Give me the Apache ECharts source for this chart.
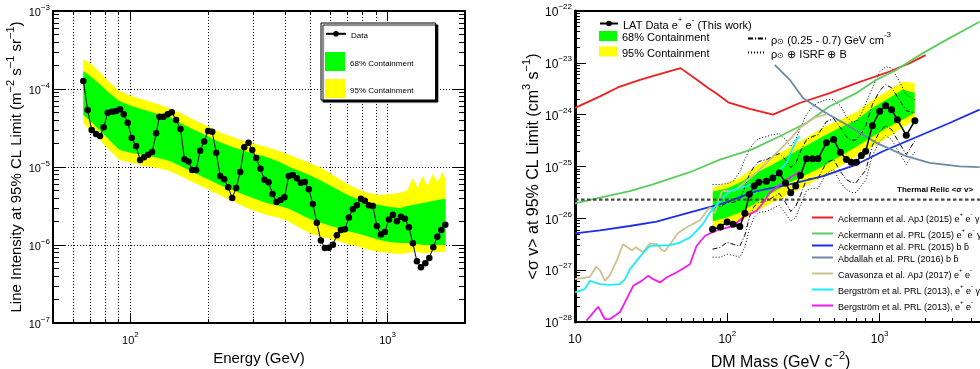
<!DOCTYPE html>
<html>
<head>
<meta charset="utf-8">
<script src="https://cdn.jsdelivr.net/npm/echarts@6.0.0/dist/echarts.min.js"></script>
<style>html,body{margin:0;padding:0;background:#fff}#main{width:980px;height:369px}</style>
</head>
<body>
<div id="main"></div>
<script>
var FONT = '"Liberation Sans", Arial, Helvetica, sans-serif';

// ---- left panel: line intensity limit vs energy ----
var leftE = [65.6,68.2,70.7,73.5,76.2,78.7,81.6,84.9,88.0,91.2,94.2,97.6,101.2,105.2,109.1,113.0,117.2,121.5,125.9,129.7,
  134.4,139.7,144.8,150.6,156.5,162.3,168.2,173.9,180.1,186.7,193.6,200.6,208.0,215.6,223.4,231.6,240.0,248.8,257.8,267.3,
  277.0,287.9,297.6,308.4,320.4,332.1,344.4,356.9,370.0,383.5,397.3,413.0,428.1,443.7,459.9,476.7,494.1,512.1,530.8,550.3,
  570.2,591.0,612.8,635.0,658.2,682.3,707.1,732.8,759.5,787.2,816.0,845.7,876.6,908.6,941.7,976.1,1012,1049,1087,1127,
  1168,1210,1254,1300,1348,1402,1453,1506,1561,1618,1677];
var leftI = [1.27e-4,5.38e-5,2.98e-5,2.65e-5,2.50e-5,3.23e-5,4.97e-5,5.12e-5,5.23e-5,5.50e-5,
  4.74e-5,3.70e-5,2.36e-5,1.86e-5,1.23e-5,1.33e-5,1.44e-5,1.56e-5,2.70e-5,4.42e-5,
  4.42e-5,4.74e-5,5.03e-5,4.01e-5,3.07e-5,1.26e-5,1.18e-5,9.16e-6,9.16e-6,1.62e-5,
  2.13e-5,2.90e-5,2.84e-5,1.52e-5,7.67e-6,6.95e-6,5.49e-6,4.01e-6,5.38e-6,8.63e-6,
  1.79e-5,2.05e-5,1.65e-5,1.30e-5,9.50e-6,6.86e-6,6.38e-6,4.51e-6,3.56e-6,3.77e-6,
  4.09e-6,7.67e-6,7.89e-6,7.16e-6,6.29e-6,6.43e-6,5.18e-6,3.36e-6,1.93e-6,1.14e-6,
  9.16e-7,9.23e-7,1.01e-6,1.33e-6,1.56e-6,1.59e-6,2.26e-6,2.87e-6,3.23e-6,3.93e-6,
  3.70e-6,3.23e-6,3.16e-6,1.75e-6,1.36e-6,1.47e-6,2.13e-6,2.44e-6,2.01e-6,2.31e-6,
  2.17e-6,1.69e-6,1.05e-6,6.18e-7,5.18e-7,5.82e-7,6.81e-7,9.35e-7,1.28e-6,1.56e-6,1.82e-6];

var bandE = [65.6,70.5,75.8,82.8,90.6,100.9,113.4,127.4,141.9,159.4,177.4,199.4,222,249.4,277.7,306.4,338.2,379.9,415.6,454.6,
  497.2,553.6,622,699,778.3,851.1,930.9,1018,1114,1196,1252,1309,1369,1431,1497,1565,1637,1682];
var bandYelHi = [2.42e-4,2.09e-4,1.65e-4,1.23e-4,9.43e-5,8.14e-5,7.23e-5,6.42e-5,5.71e-5,4.78e-5,4.01e-5,3.35e-5,2.81e-5,2.42e-5,
  2.15e-5,1.97e-5,1.81e-5,1.60e-5,1.43e-5,1.27e-5,1.13e-5,9.71e-6,7.67e-6,6.06e-6,5.07e-6,4.64e-6,4.38e-6,4.51e-6,4.64e-6,
  5.07e-6,7.23e-6,5.38e-6,7.67e-6,5.71e-6,8.14e-6,6.42e-6,8.63e-6,6.81e-6];
var bandGrnHi = [1.70e-4,1.43e-4,1.16e-4,8.89e-5,7.02e-5,6.06e-5,5.38e-5,4.78e-5,4.38e-5,3.56e-5,2.98e-5,2.50e-5,2.09e-5,1.81e-5,
  1.60e-5,1.47e-5,1.34e-5,1.16e-5,1.0e-5,8.89e-6,7.90e-6,6.62e-6,5.38e-6,4.38e-6,3.78e-6,3.46e-6,3.26e-6,3.07e-6,2.98e-6,
  3.16e-6,3.26e-6,3.35e-6,3.46e-6,3.56e-6,3.67e-6,3.78e-6,3.89e-6,3.89e-6];
var bandGrnLo = [4.64e-5,3.78e-5,2.98e-5,2.22e-5,1.65e-5,1.51e-5,1.43e-5,1.31e-5,1.19e-5,1.0e-5,8.38e-6,7.02e-6,5.88e-6,5.07e-6,
  4.38e-6,3.89e-6,3.46e-6,3.16e-6,2.89e-6,2.50e-6,2.15e-6,1.91e-6,1.70e-6,1.51e-6,1.38e-6,1.27e-6,1.16e-6,1.09e-6,1.06e-6,
  1.06e-6,1.03e-6,1.03e-6,1.0e-6,1.0e-6,1.0e-6,1.0e-6,1.0e-6,1.0e-6];
var bandYelLo = [3.67e-5,2.81e-5,2.22e-5,1.65e-5,1.23e-5,1.13e-5,1.03e-5,9.71e-6,8.89e-6,7.45e-6,6.24e-6,5.22e-6,4.38e-6,3.67e-6,
  3.07e-6,2.73e-6,2.42e-6,2.22e-6,1.97e-6,1.65e-6,1.43e-6,1.27e-6,1.16e-6,1.03e-6,9.43e-7,8.63e-7,8.14e-7,7.90e-7,7.67e-7,
  7.90e-7,8.14e-7,8.14e-7,7.90e-7,7.90e-7,8.14e-7,8.14e-7,8.14e-7,8.14e-7];

// ---- right panel: <sigma v> limit (cm^3 s^-1) vs DM mass ----
var latM = [80.0,90.2,99.7,109.2,120.8,130.3,139.4,149.9,160.9,180.4,198.8,219.2,240.9,260.8,281.2,301.8,330.6,361.9,393.7,446.9,
  499.0,552.1,604.8,652.0,703.0,758.0,809.6,895.3,1000,1095,1198,1306,1496,1703];
var latSv = [6.14e-27,6.81e-27,8.49e-27,7.67e-27,6.92e-27,1.25e-26,2.90e-26,4.22e-26,4.99e-26,5.22e-26,6.01e-26,7.50e-26,4.82e-26,
  3.12e-26,4.22e-26,6.71e-26,1.41e-25,1.41e-25,1.41e-25,2.86e-25,3.30e-25,1.88e-25,1.36e-25,1.21e-25,1.21e-25,1.63e-25,1.97e-25,
  6.14e-25,1.16e-24,1.49e-24,1.25e-24,8.02e-25,4.00e-25,7.67e-25];
var rhoUp = [1.56e-26,1.70e-26,2.03e-26,2.03e-26,2.32e-26,3.95e-26,7.02e-26,1.0e-25,1.25e-25,1.36e-25,1.56e-25,1.78e-25,1.36e-25,
  9.57e-26,1.14e-25,1.94e-25,3.30e-25,3.78e-25,4.12e-25,7.33e-25,8.38e-25,5.62e-25,3.78e-25,3.16e-25,3.30e-25,4.31e-25,6.14e-25,
  1.56e-24,2.90e-24,3.78e-24,3.30e-24,2.22e-24,1.19e-24,1.09e-24];
var rhoLo = [2.54e-27,2.77e-27,3.45e-27,3.16e-27,2.90e-27,4.71e-27,1.04e-26,1.70e-26,2.03e-26,2.12e-26,2.54e-26,3.03e-26,2.03e-26,
  1.36e-26,1.70e-26,2.77e-26,5.62e-26,5.88e-26,5.88e-26,1.19e-25,1.36e-25,8.02e-26,5.62e-26,4.92e-26,4.92e-26,6.71e-26,8.38e-26,
  2.54e-25,4.71e-25,6.14e-25,5.15e-25,3.30e-25,1.70e-25,3.16e-25];
var isrfUp = [4.51e-26,4.51e-26,4.71e-26,5.15e-26,8.02e-26,1.36e-25,2.12e-25,2.90e-25,3.45e-25,3.78e-25,4.12e-25,4.31e-25,3.30e-25,
  2.43e-25,3.30e-25,5.62e-25,1.0e-24,1.43e-24,1.70e-24,1.94e-24,1.94e-24,1.49e-24,9.16e-25,7.33e-25,7.33e-25,1.04e-24,1.63e-24,
  3.30e-24,6.71e-24,8.38e-24,8.02e-24,5.15e-24,2.43e-24,1.94e-24];
var isrfLo = [1.78e-27,1.78e-27,2.03e-27,1.94e-27,1.78e-27,2.77e-27,6.14e-27,1.04e-26,1.30e-26,1.36e-26,1.56e-26,1.78e-26,1.25e-26,
  8.75e-27,1.04e-26,1.78e-26,3.45e-26,3.78e-26,3.78e-26,7.33e-26,8.75e-26,4.92e-26,3.61e-26,3.16e-26,3.16e-26,4.31e-26,5.38e-26,
  1.63e-25,3.03e-25,3.95e-25,3.30e-25,2.12e-25,1.09e-25,1.94e-25];

var rBandM = [80.3,99.3,120.8,156,198.6,256.8,331.8,422.4,546.7,706.7,899.5,1163,1416,1698];
var rYelHi = [3.95e-26,4.71e-26,6.14e-26,1.04e-25,1.56e-25,2.32e-25,3.61e-25,5.62e-25,8.02e-25,1.14e-24,1.94e-24,3.03e-24,4.31e-24,4.12e-24];
var rGrnHi = [3.30e-26,3.78e-26,4.92e-26,7.67e-26,1.09e-25,1.70e-25,2.54e-25,3.78e-25,5.62e-25,8.02e-25,1.36e-24,2.12e-24,3.03e-24,2.65e-24];
var rGrnLo = [8.75e-27,1.04e-26,1.30e-26,2.03e-26,3.16e-26,4.92e-26,7.02e-26,1.0e-25,1.56e-25,2.43e-25,3.78e-25,5.88e-25,8.02e-25,1.09e-24];
var rYelLo = [6.14e-27,7.67e-27,8.75e-27,1.36e-26,2.03e-26,2.90e-26,4.31e-26,6.43e-26,1.0e-25,1.56e-25,2.43e-25,3.78e-25,5.62e-25,8.02e-25];

var ackApjM = [10,14.6,19.1,26.7,34.5,49.3,63.1,74.8,85.3,101.2,140.5,199.6,298.6,469.6,703,1164,1574,2005];
var ackApjSv = [1.35e-24,2.25e-24,3.35e-24,4.71e-24,5.88e-24,7.91e-24,4.71e-24,3.26e-24,2.53e-24,1.73e-24,1.29e-24,1.0e-24,1.68e-24,
  2.61e-24,4.07e-24,6.81e-24,9.86e-24,1.41e-23];
var ackPrlM = [10,14.6,22.9,32.4,56.8,89.3,144.1,221,330,470,703,951,1288,1924,2737,4529];
var ackPrlSv = [1.94e-26,2.50e-26,3.35e-26,4.51e-26,7.76e-26,1.36e-25,2.12e-25,3.83e-25,6.92e-25,1.45e-24,2.61e-24,4.71e-24,7.33e-24,
  1.54e-23,2.77e-23,6.22e-23];
var ackBbM = [10,14.6,22.9,34.3,56.8,93.8,155.2,257,425,703,1052,2877,4529];
var ackBbSv = [5.15e-27,5.88e-27,7.11e-27,8.65e-27,1.30e-26,1.94e-26,3.35e-26,4.51e-26,6.51e-26,1.09e-25,1.97e-25,6.92e-25,1.25e-24];
var abdM = [204.8,257,314,425,605,951,1496,2128,3350,4529];
var abdSv = [9.16e-24,4.71e-24,2.09e-24,1.16e-24,6.42e-25,2.86e-25,1.58e-25,1.18e-25,1.01e-25,9.7e-26];
var cavM = [10,12.54,13.74,14.59,15.73,16.98,18.85,20.63,23.66,25.12,27.92,31.04,34.5,37.2,38.9,43.9,47.3,54.2,66.0,76.8,82.8,92.0,
  112,156,199,257,299,375,443];
var cavSv = [6.71e-28,7.43e-28,1.16e-27,1.0e-27,6.22e-28,8.13e-28,1.56e-27,3.16e-27,2.43e-27,2.77e-27,2.22e-27,3.30e-27,3.16e-27,
  2.43e-27,2.32e-27,3.78e-27,5.15e-27,6.71e-27,9.16e-27,1.63e-26,1.25e-26,3.30e-26,3.45e-26,7.67e-26,1.56e-25,3.30e-25,5.62e-25,
  8.75e-25,1.0e-24];
var bergGM = [10,11.6,12.5,14.6,17.0,19.7,21.3,22.9,25.4,28.1,31.0,42.0,48.8,56.8,62.8,69.4,76.8,93.8,103.7,190,245,284,299];
var bergGSv = [3.72e-28,4.32e-28,6.22e-28,5.38e-28,5.22e-28,5.38e-28,6.71e-28,1.04e-27,1.51e-27,2.19e-27,2.94e-27,3.03e-27,3.41e-27,
  4.26e-27,5.71e-27,7.91e-27,1.29e-26,2.50e-26,3.35e-26,5.62e-26,1.18e-25,3.30e-25,3.83e-25];
var bergM = [11.9,14.2,15.7,17.0,19.7,21.8,24.1,27.4,30.2,32.6,36.1,39.9,46.4,56.8,62.8,71.2,82.8,109,130,155,172,190,215,257,299];
var bergSv = [1.06e-28,1.97e-28,1.14e-28,1.14e-28,1.54e-28,2.77e-28,4.99e-28,6.22e-28,7.77e-28,6.71e-28,5.80e-28,7.24e-28,9.03e-28,
  1.30e-27,2.93e-27,4.57e-27,5.71e-27,7.11e-27,1.11e-26,1.38e-26,2.00e-26,3.12e-26,4.18e-26,6.07e-26,8.02e-26];
var thermalM = [10, 10000];
var thermalSv = [2.3e-26, 2.3e-26];

// tick labels
var leftXLabels = [100, 1000];
var leftXGrid = [60, 70, 80, 90, 100, 200, 300, 400, 500, 600, 700, 800, 900, 1000];
var leftYLabels = [1e-7, 1e-6, 1e-5, 1e-4, 1e-3];
var rightXLabels = [10, 100, 1000];
var rightYLabels = [1e-28, 1e-27, 1e-26, 1e-25, 1e-24, 1e-23, 1e-22];

// echarts rounds log extents to 10 decimals, so 1e-28 collapses to 0:
// the right panel is plotted in units of 1e-26 cm^3 s^-1 and relabelled
var SV_EXP = 26;
function sv(arr) {
  return arr.map(function (v) { return v * Math.pow(10, SV_EXP); });
}
function cleanPow(arr, shift) {
  return arr.map(function (v) { return Math.pow(10, Math.round(Math.log10(v)) + shift); });
}

var chart = echarts.init(document.getElementById('main'));

function pairs(xs, ys) {
  return xs.map(function (x, i) { return [x, ys[i]]; });
}
function minorTicks(e0, e1) {
  var t = [];
  for (var e = e0; e < e1; e++) {
    for (var k = 2; k <= 9; k++) t.push(k * Math.pow(10, e));
  }
  return t;
}
function richSet(fs) {
  var s = Math.round(fs * 0.7);
  return {
    b: { fontSize: fs, lineHeight: fs + 4, verticalAlign: 'bottom', fontFamily: FONT, color: '#000' },
    sup: { fontSize: s, lineHeight: s, verticalAlign: 'top', fontFamily: FONT, color: '#000' },
    sub: { fontSize: s, lineHeight: s, verticalAlign: 'bottom', fontFamily: FONT, color: '#000' }
  };
}
// "^{..}" -> superscript, "_{..}" -> subscript
function rt(s) {
  return '{b|' + s.replace(/\^\{([^}]*)\}/g, '}{sup|$1}{b|').replace(/_\{([^}]*)\}/g, '}{sub|$1}{b|') + '}';
}
function powLabel(shift) {
  return function (v) {
    var e = Math.round(Math.log10(v)) - shift;
    if (e === 1) return '{b|10}';
    return '{b|10}{sup|' + (e < 0 ? '\u2212' + (-e) : e) + '}';
  };
}

function logAxis(o) {
  var ax = {
    type: 'log', gridIndex: o.grid, position: o.pos, min: o.min, max: o.max,
    axisLine: { show: !!o.line, onZero: false, lineStyle: { color: '#000', width: o.line || 1 } },
    axisTick: o.ticks ? { show: true, inside: true, length: o.len, customValues: o.ticks.slice(),
      lineStyle: { color: '#000', width: 1 } } : { show: false },
    axisLabel: o.labels ? { show: true, customValues: o.labels.slice(), formatter: powLabel(o.shift || 0),
      margin: o.margin, rich: richSet(o.fs) } : { show: false },
    splitLine: o.split ? { show: true, lineStyle: { color: '#000', width: 1, type: [1, 2] } } : { show: false },
    axisPointer: { show: false }
  };
  if (o.name) {
    ax.name = rt(o.name);
    ax.nameLocation = 'middle';
    ax.nameGap = o.gap;
    ax.nameRotate = o.rotate || 0;
    ax.nameTextStyle = { rich: richSet(o.nfs), padding: o.npad || 0 };
  }
  return ax;
}

function band(name, xs, lo, hi, color, ai) {
  return {
    type: 'custom', name: name, xAxisIndex: ai, yAxisIndex: ai, silent: true,
    itemStyle: { color: color },
    data: xs.map(function (x, i) { return [x, lo[i], hi[i]]; }),
    renderItem: function (params, api) {
      if (params.dataIndex !== 0) return null;
      var pts = [];
      for (var i = 0; i < xs.length; i++) pts.push(api.coord([xs[i], hi[i]]));
      for (var j = xs.length - 1; j >= 0; j--) pts.push(api.coord([xs[j], lo[j]]));
      return { type: 'polygon', shape: { points: pts }, style: { fill: color } };
    }
  };
}

function curve(name, xs, ys, color, width, type) {
  return {
    type: 'line', name: name, xAxisIndex: 4, yAxisIndex: 4, data: pairs(xs, sv(ys)),
    symbol: 'circle', showSymbol: false, silent: true,
    itemStyle: { color: color },
    lineStyle: { color: color, width: width, type: type || 'solid' }
  };
}

var N_LAT = 'LAT Data e^{+} e^{-} (This work)';
var N_RHO = '\u03c1_{\u2299} (0.25 - 0.7) GeV cm^{-3}';
var N_ISRF = '\u03c1_{\u2299} \u2295 ISRF \u2295 B';
var REFS = [
  ['Ackermann et al. ApJ (2015) e^{+} e^{-} \u03b3', ackApjM, ackApjSv, '#f21d1d'],
  ['Ackermann et al. PRL (2015) e^{+} e^{-} \u03b3', ackPrlM, ackPrlSv, '#5ccd5c'],
  ['Ackermann et al. PRL (2015) b b\u0304', ackBbM, ackBbSv, '#1c2ee8'],
  ['Abdallah et al. PRL (2016) b b\u0304', abdM, abdSv, '#6c8aa2'],
  ['Cavasonza et al. ApJ (2017) e^{+} e^{-}', cavM, cavSv, '#cdc28f'],
  ['Bergstr\u00f6m et al. PRL (2013), e^{+} e^{-} \u03b3', bergGM, bergGSv, '#16eef8'],
  ['Bergstr\u00f6m et al. PRL (2013), e^{+} e^{-}', bergM, bergSv, '#f21af2']
];

var series = [
  band('95% Containment', bandE, bandYelLo, bandYelHi, '#ffff00', 0),
  band('68% Containment', bandE, bandGrnLo, bandGrnHi, '#00ff00', 0),
  {
    type: 'line', name: 'Data', xAxisIndex: 0, yAxisIndex: 0, data: pairs(leftE, leftI),
    symbol: 'circle', symbolSize: 6.5, silent: true,
    itemStyle: { color: '#000' }, lineStyle: { color: '#000', width: 1 }
  },
  band('95% Containment', rBandM, sv(rYelLo), sv(rYelHi), '#ffff00', 4),
  band('68% Containment', rBandM, sv(rGrnLo), sv(rGrnHi), '#00ff00', 4),
  curve(N_RHO, latM, rhoUp, '#000', 1, [5, 2, 1, 2]),
  curve(N_RHO, latM, rhoLo, '#000', 1, [5, 2, 1, 2]),
  curve(N_ISRF, latM, isrfUp, '#000', 1, [1, 2]),
  curve(N_ISRF, latM, isrfLo, '#000', 1, [1, 2])
];
REFS.forEach(function (r) { series.push(curve(r[0], r[1], r[2], r[3], 1.8)); });
series.push(curve('Thermal Relic', thermalM, thermalSv, '#4a4a4a', 2.2, [3.5, 2.5]));
series.push({
  type: 'line', name: N_LAT, xAxisIndex: 4, yAxisIndex: 4, data: pairs(latM, sv(latSv)),
  symbol: 'circle', symbolSize: 7, silent: true,
  itemStyle: { color: '#000' }, lineStyle: { color: '#000', width: 1.5 }
});

function legendText(fs) {
  return { fontFamily: FONT, fontSize: fs, color: '#000', rich: richSet(fs) };
}

var rYMin = Math.pow(10, -28 + SV_EXP), rYMax = Math.pow(10, -22 + SV_EXP);

var option = {
  animation: false,
  backgroundColor: '#fff',
  grid: [
    { left: 53, top: 11, width: 412, height: 312, outerBoundsMode: 'none', containLabel: false },
    { left: 575, top: 11, width: 457, height: 311, outerBoundsMode: 'none', containLabel: false }
  ],
  xAxis: [
    logAxis({ grid: 0, pos: 'bottom', min: 50, max: 2000, line: 2, ticks: leftXLabels, len: 10,
      labels: leftXLabels, margin: 8, fs: 11, name: 'Energy (GeV)', gap: 19, nfs: 15 }),
    logAxis({ grid: 0, pos: 'bottom', min: 50, max: 2000, ticks: leftXGrid, len: 4, split: true }),
    logAxis({ grid: 0, pos: 'top', min: 50, max: 2000, line: 2, ticks: leftXLabels, len: 10 }),
    logAxis({ grid: 0, pos: 'top', min: 50, max: 2000, ticks: leftXGrid, len: 4 }),
    logAxis({ grid: 1, pos: 'bottom', min: 10, max: 10000, line: 2, ticks: rightXLabels, len: 9,
      labels: rightXLabels, margin: 8, fs: 12, name: 'DM Mass (GeV c^{\u22122})', gap: 20, nfs: 16, npad: [0, 46, 0, 0] }),
    logAxis({ grid: 1, pos: 'bottom', min: 10, max: 10000, ticks: minorTicks(1, 4), len: 4 }),
    logAxis({ grid: 1, pos: 'top', min: 10, max: 10000, line: 2 })
  ],
  yAxis: [
    logAxis({ grid: 0, pos: 'left', min: 1e-7, max: 1e-3, line: 2, ticks: leftYLabels, len: 12,
      labels: leftYLabels, margin: 3, fs: 11, split: true,
      name: 'Line Intensity at 95% CL Limit (m^{\u22122} s^{\u22121} sr^{\u22121})', gap: 28, nfs: 15, rotate: 90 }),
    logAxis({ grid: 0, pos: 'left', min: 1e-7, max: 1e-3, ticks: minorTicks(-7, -3), len: 6 }),
    logAxis({ grid: 0, pos: 'right', min: 1e-7, max: 1e-3, line: 2, ticks: leftYLabels, len: 12 }),
    logAxis({ grid: 0, pos: 'right', min: 1e-7, max: 1e-3, ticks: minorTicks(-7, -3), len: 6 }),
    logAxis({ grid: 1, pos: 'left', min: rYMin, max: rYMax, line: 3, ticks: cleanPow(rightYLabels, SV_EXP), len: 11,
      labels: cleanPow(rightYLabels, SV_EXP), shift: SV_EXP, margin: 3, fs: 12,
      name: '<\u03c3 v> at 95% CL Limit (cm^{3} s^{\u22121})', gap: 30, nfs: 16, rotate: 90 }),
    logAxis({ grid: 1, pos: 'left', min: rYMin, max: rYMax, ticks: minorTicks(-28 + SV_EXP, -22 + SV_EXP), len: 5 })
  ],
  legend: [
    {
      data: [{ name: '68% Containment', icon: 'rect' }, { name: '95% Containment', icon: 'rect' }],
      left: 321, top: 23, orient: 'vertical', itemWidth: 20, itemHeight: 19, itemGap: 8,
      padding: [29, 22, 2, 4], backgroundColor: '#fff', borderColor: '#000', borderWidth: 1,
      shadowColor: '#000', shadowOffsetX: 2, shadowOffsetY: 2, shadowBlur: 1,
      selectedMode: false, formatter: rt, textStyle: legendText(8)
    },
    {
      data: ['Data'], left: 325, top: 31, z: 6, orient: 'vertical', itemWidth: 20, itemHeight: 7, padding: 0,
      selectedMode: false, formatter: rt, textStyle: legendText(8)
    },
    {
      data: [N_LAT], left: 599, top: 16, orient: 'vertical', itemWidth: 18, itemHeight: 7, padding: 0,
      selectedMode: false, formatter: rt, textStyle: legendText(11)
    },
    {
      data: [{ name: '68% Containment', icon: 'rect' }, { name: '95% Containment', icon: 'rect' }],
      left: 599, top: 31, orient: 'vertical', itemWidth: 18, itemHeight: 10, itemGap: 3, padding: 0,
      selectedMode: false, formatter: rt, textStyle: legendText(11)
    },
    {
      data: [N_RHO, N_ISRF], left: 747, top: 31, orient: 'vertical', itemWidth: 18, itemHeight: 1, itemGap: 3, padding: 0,
      selectedMode: false, formatter: rt, textStyle: legendText(11)
    },
    {
      data: REFS.map(function (r) { return r[0]; }), left: 811, top: 211, orient: 'vertical',
      itemWidth: 21, itemHeight: 1, itemGap: 3, padding: 0,
      selectedMode: false, formatter: rt, textStyle: legendText(9)
    }
  ],
  graphic: [
    { type: 'text', left: 897, top: 186, z: 10,
      style: { text: 'Thermal Relic <\u03c3 v>', font: 'bold 8px ' + FONT, fill: '#000' } }
  ],
  series: series
};
chart.setOption(option);
</script>
</body>
</html>
